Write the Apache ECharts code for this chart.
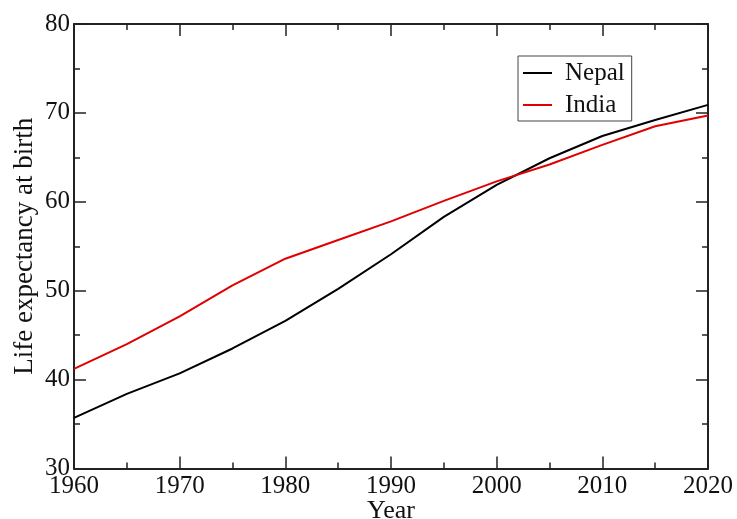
<!DOCTYPE html>
<html>
<head>
<meta charset="utf-8">
<script src="https://cdn.jsdelivr.net/npm/echarts@6/dist/echarts.min.js"></script>
<style>html,body{margin:0;padding:0;background:#fff;}#c{width:737px;height:519px;}</style>
</head>
<body>
<div id="c"></div>
<script>
const years = [1960, 1965, 1970, 1975, 1980, 1985, 1990, 1995, 2000, 2005, 2010, 2015, 2020];
const nepal = [35.7, 38.4, 40.7, 43.5, 46.6, 50.2, 54.1, 58.3, 61.9, 64.9, 67.4, 69.2, 70.9];
const india = [41.2, 44.0, 47.1, 50.6, 53.6, 55.7, 57.8, 60.1, 62.3, 64.2, 66.4, 68.5, 69.7];
const seriesNames = ['Nepal', 'India'];

const F = 'Liberation Serif, Times New Roman, serif';
const axisLineStyle = { color: '#222', width: 2 };
const tickStyle = { color: '#222', width: 1.5 };
const chart = echarts.init(document.getElementById('c'));
function pairs(v) { return years.map((y, i) => [y, v[i]]); }
chart.setOption({
  animation: false,
  backgroundColor: '#fff',
  grid: { left: 74, right: 29, top: 24, bottom: 50.5, containLabel: false, outerBoundsMode: 'none' },
  legend: {
    orient: 'vertical', left: 518, top: 56,
    data: seriesNames,
    icon: 'rect', itemWidth: 29, itemHeight: 2, itemGap: 6,
    borderColor: '#444', borderWidth: 1,
    padding: [4, 7, 3, 5],
    textStyle: { fontFamily: F, fontSize: 25, lineHeight: 26, color: '#111', padding: [0, 0, 0, 8] }
  },
  xAxis: [{
    type: 'value', min: 1960, max: 2020, interval: 10,
    name: 'Year', nameLocation: 'middle', nameGap: 30, nameMoveOverlap: false,
    nameTextStyle: { fontFamily: F, fontSize: 26, color: '#111' },
    axisLine: { lineStyle: axisLineStyle },
    axisTick: { inside: true, length: 12, lineStyle: tickStyle },
    minorTick: { show: true, splitNumber: 2, length: 6, lineStyle: tickStyle },
    splitLine: { show: false },
    axisLabel: { fontFamily: F, fontSize: 25, color: '#111', margin: 5, formatter: v => String(v) }
  }, {
    type: 'value', min: 1960, max: 2020, interval: 10, position: 'top',
    axisLine: { show: true, lineStyle: axisLineStyle },
    axisTick: { inside: true, length: 12, lineStyle: tickStyle },
    minorTick: { show: true, splitNumber: 2, length: 6, lineStyle: tickStyle },
    splitLine: { show: false }, axisLabel: { show: false }
  }],
  yAxis: [{
    type: 'value', min: 30, max: 80, interval: 10,
    name: 'Life expectancy at birth', nameLocation: 'middle', nameGap: 36, nameMoveOverlap: false,
    nameTextStyle: { fontFamily: F, fontSize: 27, color: '#111' },
    axisLine: { show: true, lineStyle: axisLineStyle },
    axisTick: { show: true, inside: true, length: 12, lineStyle: tickStyle },
    minorTick: { show: true, splitNumber: 2, length: 6, lineStyle: tickStyle },
    splitLine: { show: false },
    axisLabel: { fontFamily: F, fontSize: 25, color: '#111', margin: 4 }
  }, {
    type: 'value', min: 30, max: 80, interval: 10, position: 'right',
    axisLine: { show: true, lineStyle: axisLineStyle },
    axisTick: { show: true, inside: true, length: 12, lineStyle: tickStyle },
    minorTick: { show: true, splitNumber: 2, length: 6, lineStyle: tickStyle },
    splitLine: { show: false }, axisLabel: { show: false }
  }],
  series: [
    { name: seriesNames[0], type: 'line', data: pairs(nepal), showSymbol: false, symbol: 'none',
      color: '#000', lineStyle: { color: '#000', width: 2 } },
    { name: seriesNames[1], type: 'line', data: pairs(india), showSymbol: false, symbol: 'none',
      color: '#e00000', lineStyle: { color: '#e00000', width: 2 } }
  ]
});
</script>
</body>
</html>
